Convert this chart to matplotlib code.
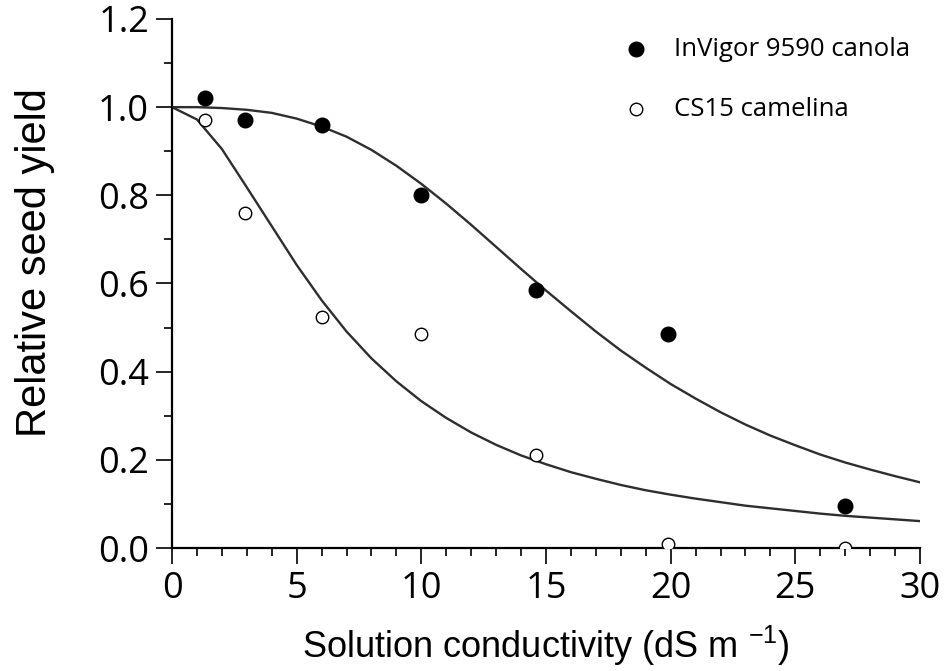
import matplotlib
matplotlib.use("Agg")
import matplotlib.pyplot as plt
from matplotlib import font_manager as fm
from matplotlib.ticker import MultipleLocator

# ---------------- data ----------------
conductivity = [1.33, 2.93, 6.0, 10.0, 14.6, 19.9, 27.0]
canola_yield = [1.02, 0.97, 0.96, 0.80, 0.585, 0.485, 0.095]
camelina_yield = [0.97, 0.76, 0.525, 0.485, 0.21, 0.01, 0.0]

curve_x = list(range(0, 31))
canola_curve = [1.000, 1.000, 0.998, 0.994, 0.987, 0.974, 0.956, 0.933, 0.903, 0.867,
                0.826, 0.781, 0.733, 0.683, 0.633, 0.584, 0.537, 0.491, 0.448, 0.409,
                0.372, 0.339, 0.308, 0.280, 0.255, 0.233, 0.212, 0.194, 0.178, 0.163,
                0.149]
camelina_curve = [1.000, 0.972, 0.905, 0.818, 0.730, 0.642, 0.562, 0.491, 0.430, 0.378,
                  0.333, 0.295, 0.262, 0.234, 0.210, 0.190, 0.172, 0.157, 0.143, 0.131,
                  0.121, 0.112, 0.104, 0.096, 0.090, 0.084, 0.078, 0.073, 0.069, 0.065,
                  0.061]

series_labels = ["InVigor 9590 canola", "CS15 camelina"]
xticks = [0, 5, 10, 15, 20, 25, 30]
yticks = [0.0, 0.2, 0.4, 0.6, 0.8, 1.0, 1.2]


def has_font(name):
    try:
        fm.findfont(fm.FontProperties(family=name), fallback_to_default=False)
        return True
    except Exception:
        return False


tickfont = "Open Sans" if has_font("Open Sans") else "DejaVu Sans"
labelfont = "Liberation Sans"

fig = plt.figure(figsize=(9.51, 6.71), dpi=100)
ax = fig.add_axes([0.1809, 0.1833, 0.7865, 0.7884])

line_color = "#2e2e2e"
ax.plot(curve_x, canola_curve, color=line_color, lw=1.7, zorder=2)
ax.plot(curve_x, camelina_curve, color=line_color, lw=1.7, zorder=2)

ax.plot(conductivity, canola_yield, "o", ms=10.5, mfc="black", mec="black", zorder=3)
ax.plot(conductivity, camelina_yield, "o", ms=9, mfc="white", mec="black", mew=1.0, zorder=3)

ax.set_xlim(0, 30)
ax.set_ylim(0, 1.2)
ax.set_xticks(xticks)
ax.set_yticks(yticks)
ax.set_xticklabels([str(t) for t in xticks])
ax.set_yticklabels([f"{t:.1f}" for t in yticks])
ax.xaxis.set_minor_locator(MultipleLocator(1))
ax.yaxis.set_minor_locator(MultipleLocator(0.1))

for s in ["top", "right"]:
    ax.spines[s].set_visible(False)
for s in ["left", "bottom"]:
    ax.spines[s].set_linewidth(1.6)

ax.tick_params(axis="both", which="major", direction="out", length=11.5, width=1.2, pad=5)
ax.tick_params(axis="both", which="minor", direction="out", length=6, width=1.2)
for lab in ax.get_xticklabels() + ax.get_yticklabels():
    lab.set_fontfamily(tickfont)
    lab.set_fontsize(26)

ax.set_xlabel(r"Solution conductivity (dS m $^{\mathregular{-1}}$)", fontfamily=labelfont,
              fontsize=26, labelpad=12)
ax.set_ylabel("Relative seed yield", fontfamily=labelfont, fontsize=30)
ax.yaxis.set_label_coords(-0.157, 0.54)

# legend
ax.plot([18.6], [1.131], "o", ms=10.5, mfc="black", mec="black", clip_on=False)
ax.plot([18.6], [0.995], "o", ms=9, mfc="white", mec="black", mew=1.0, clip_on=False)
ax.text(20.15, 1.131, series_labels[0], fontfamily=tickfont, fontsize=18.5, va="center", ha="left")
ax.text(20.15, 0.995, series_labels[1], fontfamily=tickfont, fontsize=18.5, va="center", ha="left")

fig.savefig("out.png", dpi=100)
